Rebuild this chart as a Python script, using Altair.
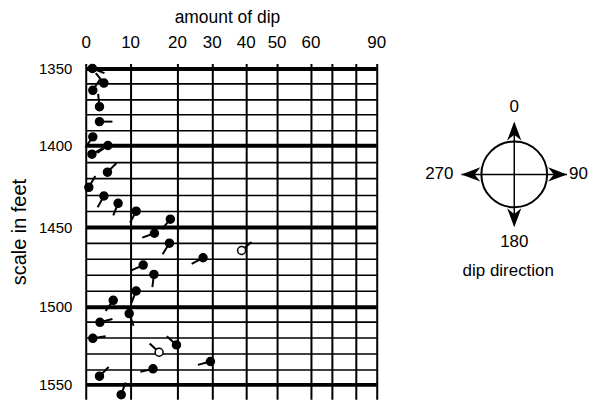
import altair as alt
import pandas as pd

# ---- data ----
depth = [1350.0, 1359.5, 1364.2, 1374.8, 1384.5, 1394.4, 1400.0, 1405.3, 1416.3, 1425.6,
         1430.9, 1435.4, 1440.2, 1445.1, 1453.8, 1460.1, 1464.7, 1469.3, 1473.9, 1479.8,
         1490.3, 1496.2, 1504.6, 1510.2, 1520.4, 1524.6, 1529.3, 1535.2, 1539.9, 1544.6, 1556.4]
dip = [1.5, 4.1, 1.6, 3.1, 3.1, 1.6, 5.0, 1.4, 4.9, 0.7,
       4.1, 7.3, 11.3, 18.6, 15.2, 18.4, 38.8, 27.5, 12.8, 15.1,
       11.3, 6.2, 9.8, 3.2, 1.6, 19.9, 16.2, 29.6, 14.9, 3.1, 8.0]
azimuth = [111, 321, 33, 354, 90, 215, 235, 61, 45, 30,
           209, 202, 208, 220, 250, 212, 49, 242, 246, 187,
           202, 216, 160, 75, 81, 312, 313, 255, 257, 45, 20]
kind = ["solid"] * len(depth)
kind[16] = "open"
kind[26] = "open"

dip_ticks = [0, 10, 20, 30, 40, 50, 60, 70, 80, 90]
depth_lines = list(range(1350, 1560, 10))
compass_dirs = [0, 90, 180, 270]
compass_labels = ["0", "90", "180", "270"]

df = pd.DataFrame({"depth": depth, "dip": dip, "azimuth": azimuth, "kind": kind})
one = pd.DataFrame({"k": [0]})

FONT = "Liberation Sans"
W, H = 292, 337

# non-linear (stretched) dip scale, as on the chart's top axis
xscale = alt.Scale(domain=dip_ticks,
                   range=[0, 44.5, 91.5, 126.5, 160.5, 191.5, 225.5, 247, 270.5, 291.5],
                   nice=False, zero=False)
yscale = alt.Scale(domain=[1346.8, 1350, 1400, 1450, 1500, 1550, 1559.35],
                   range=[0, 5, 82.3, 164.3, 243.7, 322.3, 337],
                   nice=False, zero=False)

xaxis = alt.Axis(orient="top", values=dip_ticks, title="amount of dip",
                 labelExpr="datum.value == 70 || datum.value == 80 ? '' : datum.label",
                 labelFont=FONT, labelFontSize=17, labelColor="black",
                 labelBaseline="alphabetic", labelPadding=16.3, labelFlush=False,
                 labelOverlap=False, ticks=False, domain=False,
                 grid=True, gridColor="black", gridOpacity=1, gridWidth=2,
                 titleFont=FONT, titleFontSize=17.5, titleFontWeight="normal",
                 titleColor="black", titleX=141.7, titleY=-41.5,
                 titleBaseline="alphabetic", titleAlign="center")
yaxis = alt.Axis(orient="left", values=depth_lines, format="d", title="scale in feet",
                 labelExpr="datum.value % 50 == 0 ? datum.label : ''",
                 labelFont=FONT, labelFontSize=15, labelColor="black",
                 labelBaseline="middle", labelPadding=14, labelFlush=False,
                 labelOverlap=False, ticks=False, domain=False,
                 grid=True, gridColor="black", gridOpacity=1,
                 gridWidth={"condition": {"test": "datum.value % 50 == 0", "value": 4},
                            "value": 1.6},
                 titleFont=FONT, titleFontSize=20, titleFontWeight="normal",
                 titleColor="black", titleAngle=270, titleX=-60, titleY=168.7,
                 titleBaseline="alphabetic", titleAlign="center")

base = alt.Chart(df).encode(
    x=alt.X("dip:Q", scale=xscale, axis=xaxis),
    y=alt.Y("depth:Q", scale=yscale, axis=yaxis),
)

tails = base.mark_point(shape="M0,0L0,-1", size=676, strokeWidth=2,
                        color="black", filled=False, opacity=1,
                        strokeCap="butt").encode(
    angle=alt.Angle("azimuth:Q", scale=None))

dots = base.mark_point(shape="circle", size=64, filled=True, stroke="black",
                       strokeWidth=1.5, opacity=1).encode(
    fill=alt.Fill("kind:N", scale=alt.Scale(domain=["solid", "open"],
                                           range=["black", "white"]), legend=None))

# ---- compass (dip direction key) ----
cx, cy, r = 430, 111.3, 33
arm = 53
head_half = 9.5

circle = alt.Chart(one).mark_point(shape="circle", size=(2 * r) ** 2, filled=False,
                                   stroke="black", strokeWidth=2, opacity=1).encode(
    x=alt.value(cx), y=alt.value(cy))
vline = alt.Chart(one).mark_rule(color="black", strokeWidth=1.5).encode(
    x=alt.value(cx), y=alt.value(cy - arm + 2), y2=alt.value(cy + arm - 2))
hline = alt.Chart(one).mark_rule(color="black", strokeWidth=1.5).encode(
    x=alt.value(cx - arm), x2=alt.value(cx + arm), y=alt.value(cy))

heads = []
offs = {0: (0, -1), 90: (1, 0), 180: (0, 1), 270: (-1, 0)}
for d in compass_dirs:
    dx, dy = offs[d]
    heads.append(
        alt.Chart(one).mark_point(shape="M0,-1L0.75,1L0,0.4L-0.75,1Z",
                                  size=(2 * head_half) ** 2, filled=True,
                                  color="black", opacity=1, angle=d).encode(
            x=alt.value(cx + dx * (arm - head_half)),
            y=alt.value(cy + dy * (arm - head_half)))
    )

def txt(text, x, y, align="center", baseline="alphabetic", size=17):
    return alt.Chart(one).mark_text(text=text, font=FONT, fontSize=size, color="black",
                                    align=align, baseline=baseline).encode(
        x=alt.value(x), y=alt.value(y))

labels = [
    txt(compass_labels[0], cx, 49),
    txt(compass_labels[2], cx, 183.7),
    txt(compass_labels[3], cx - arm - 8, cy, align="right", baseline="middle"),
    txt(compass_labels[1], cx + arm + 2, cy, align="left", baseline="middle"),
    txt("dip direction", 424, 213),
]

chart = alt.layer(tails, dots, circle, vline, hline, *heads, *labels).properties(
    width=W, height=H,
    autosize=alt.AutoSizeParams(type="none"),
    padding={"left": 78, "top": 55, "right": 212, "bottom": 0},
).configure_view(strokeWidth=0)

chart.save("out.html", embed_options={"renderer": "svg", "actions": False})
